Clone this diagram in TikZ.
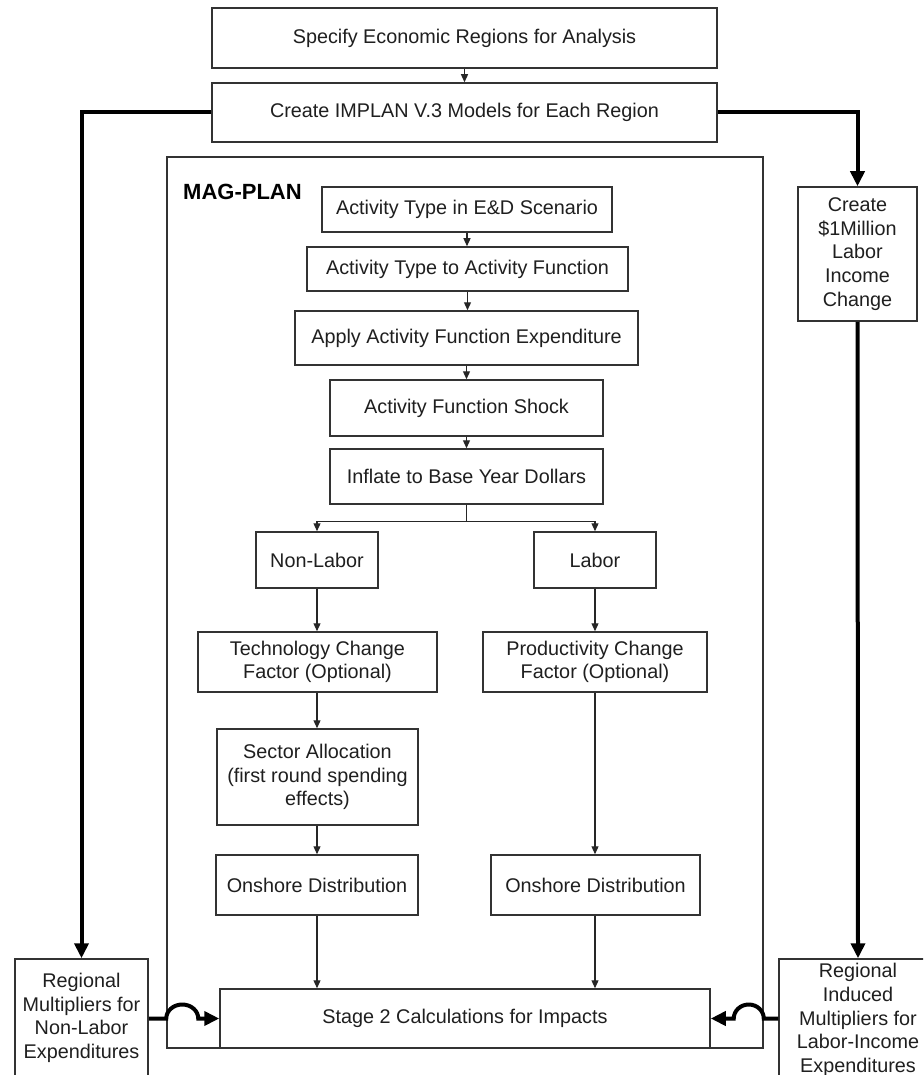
\documentclass[tikz,border=0pt]{standalone}
\usepackage{fontspec}
\setmainfont{Liberation Sans}
\usetikzlibrary{arrows.meta}
\begin{document}
\begin{tikzpicture}[x=1pt,y=-1pt,
  box/.style={draw=black!80, line width=1.5pt, fill=white, inner sep=0pt, align=center,
    font=\fontsize{19.8}{23.7}\selectfont, text=black!88},
  thinarrow/.style={draw=black!85, line width=1.2pt, -{Triangle[length=8pt,width=7pt]}},
  thickarrow/.style={draw=black, line width=4pt, -{Triangle[length=15pt,width=14pt]}},
  thickline/.style={draw=black, line width=4pt}]
\useasboundingbox (0,0) rectangle (923,1075);
\clip (0,0) rectangle (923,1075);
\fill[white] (0,0) rectangle (923,1075);
% outer MAG-PLAN frame
\node[draw=black!80, line width=1.5pt, minimum width=596pt, minimum height=891pt, inner sep=0pt] (outer) at (465,602.5) {};
\node[anchor=base west, inner sep=0pt, font=\fontsize{22}{26}\selectfont\bfseries] (magplan) at (183,200) {MAG-PLAN};
% top boxes
\node[box, minimum width=505pt, minimum height=60pt] (top) at (464.5,38) {Specify Economic Regions for Analysis};
\node[box, minimum width=505pt, minimum height=59pt] (implan) at (464.5,112.5) {Create IMPLAN V.3 Models for Each Region};
% main column
\node[box, minimum width=290pt, minimum height=45pt] (a1) at (467,209.5) {Activity Type in E\&D Scenario};
\node[box, minimum width=321pt, minimum height=44pt] (a2) at (467.5,269) {Activity Type to Activity Function};
\node[box, minimum width=343pt, minimum height=54pt] (a3) at (466.5,338) {Apply Activity Function Expenditure};
\node[box, minimum width=273pt, minimum height=56pt] (a4) at (466.5,408) {Activity Function Shock};
\node[box, minimum width=273pt, minimum height=55pt] (a5) at (466.5,476.5) {Inflate to Base Year Dollars};
\node[box, minimum width=122pt, minimum height=56pt] (nonlabor) at (317,560) {Non-Labor};
\node[box, minimum width=122pt, minimum height=56pt] (labor) at (595,560) {Labor};
\node[box, minimum width=239pt, minimum height=60pt] (tech) at (317.5,662) {Technology Change\\Factor (Optional)};
\node[box, minimum width=224pt, minimum height=60pt] (prod) at (595,662) {Productivity Change\\Factor (Optional)};
\node[box, minimum width=201pt, minimum height=96pt] (sector) at (317.5,777) {Sector Allocation\\(first round spending\\effects)};
\node[box, minimum width=202pt, minimum height=60pt] (onL) at (317,885) {Onshore Distribution};
\node[box, minimum width=209pt, minimum height=60pt] (onR) at (595.5,885) {Onshore Distribution};
\node[box, minimum width=490pt, minimum height=59pt] (stage2) at (465,1018.5) {Stage 2 Calculations for Impacts};
% side boxes
\node[box, minimum width=119pt, minimum height=134pt] (create) at (857.5,254) {Create\\\$1Million\\Labor\\Income\\Change};
\node[box, minimum width=133pt, minimum height=118pt] (leftbox) at (81.5,1018) {Regional\\Multipliers for\\Non-Labor\\Expenditures};
\node[box, minimum width=158pt, minimum height=122pt] (rightbox) at (858,1020) {Regional\\Induced\\Multipliers for\\Labor-Income\\Expenditures};
% thin arrows
\draw[thinarrow] (top.south) -- (top.south |- implan.north);
\draw[thinarrow] (a1.south) -- (a1.south |- a2.north);
\draw[thinarrow] (a2.south) -- (a2.south |- a3.north);
\draw[thinarrow] (a3.south) -- (a3.south |- a4.north);
\draw[thinarrow] (a4.south) -- (a4.south |- a5.north);
\coordinate (branch) at ([yshift=-17pt]a5.south);
\draw[draw=black!85, line width=1.2pt] (a5.south) -- (branch);
\draw[thinarrow] (branch) -| (nonlabor.north);
\draw[thinarrow] (branch) -| (labor.north);
\draw[thinarrow] (nonlabor.south) -- (tech.north -| nonlabor.south);
\draw[thinarrow] (labor.south) -- (prod.north -| labor.south);
\draw[thinarrow] (tech.south -| nonlabor.south) -- (sector.north -| nonlabor.south);
\draw[thinarrow] (sector.south -| nonlabor.south) -- (onL.north -| nonlabor.south);
\draw[thinarrow] (prod.south -| labor.south) -- (onR.north -| labor.south);
\draw[thinarrow] (onL.south -| nonlabor.south) -- (stage2.north -| nonlabor.south);
\draw[thinarrow] (onR.south -| labor.south) -- (stage2.north -| labor.south);
% thick connectors
\draw[thickarrow] (implan.west) -| (leftbox.north);
\draw[thickarrow] (implan.east) -| (create.north);
\draw[thickarrow] (create.south) -- (rightbox.north);
\coordinate (lj) at (outer.west |- stage2.west);
\coordinate (rj) at (outer.east |- stage2.east);
\draw[thickarrow] (leftbox.east |- stage2.west) -- (lj)
   arc[start angle=180, end angle=0, x radius=16pt, y radius=14pt] -- (stage2.west);
\draw[thickarrow] (rightbox.west |- stage2.east) -- (rj)
   arc[start angle=0, end angle=180, x radius=15pt, y radius=14pt] -- (stage2.east);
\end{tikzpicture}
\end{document}
